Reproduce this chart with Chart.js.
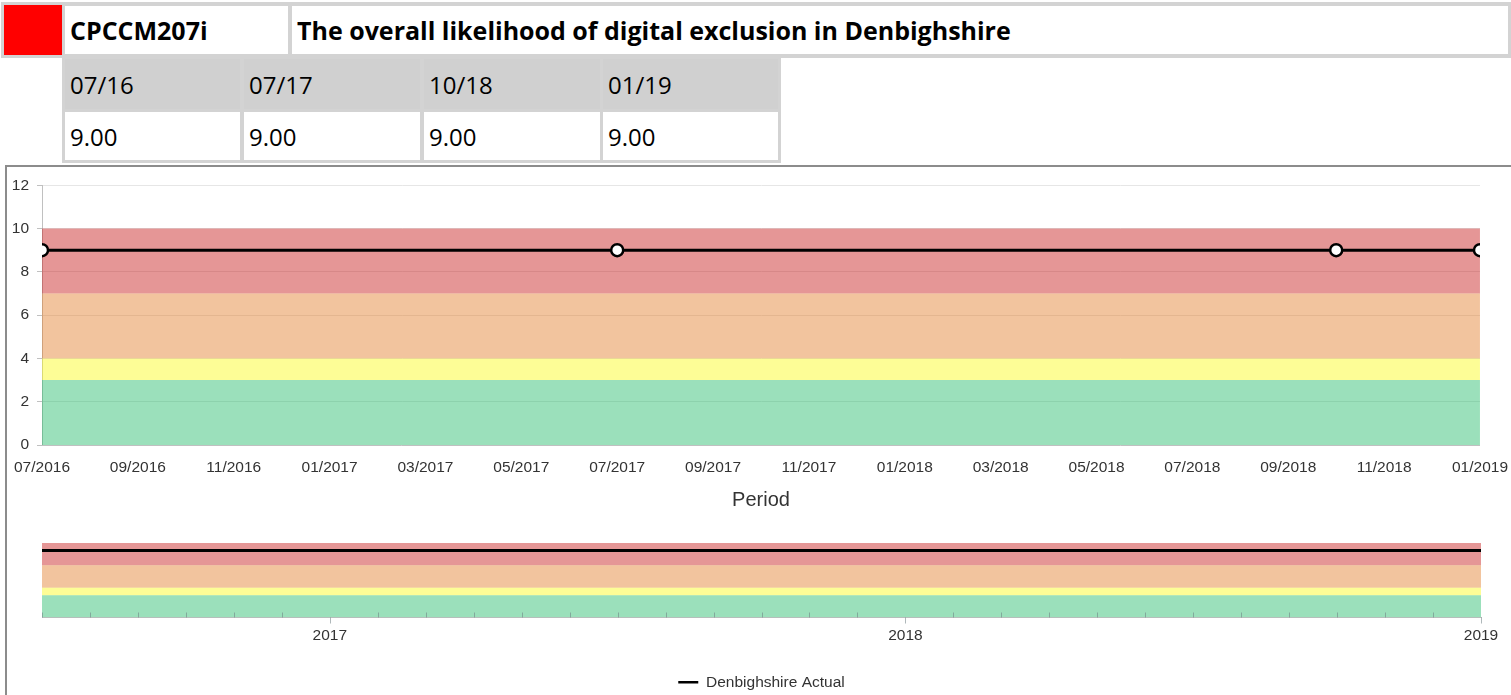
<!DOCTYPE html>
<html>
<head>
<meta charset="utf-8">
<script src="https://cdn.jsdelivr.net/npm/chart.js@4"></script>
<style>
  body { margin: 0; width: 1511px; height: 695px; overflow: hidden; position: relative; background: #fff; font-family: 'Open Sans', sans-serif; color: #000; }
  .box { position: absolute; box-sizing: border-box; }
  .grey { background: #d3d3d3; }
  .cell { position: absolute; box-sizing: border-box; padding-left: 5px; font-size: 24px; display: flex; align-items: center; }
  .bold { font-weight: bold; font-size: 25px; }
  #frame { position: absolute; left: 5px; top: 165px; width: 1530px; height: 600px; border: 2px solid #8c8c8c; box-sizing: border-box; }
  #main { position: absolute; left: 8px; top: 168px; }
  #nav { position: absolute; left: 8px; top: 515px; }
</style>
</head>
<body>
<div class="box grey" style="left:1px;top:2px;width:1510px;height:56px;"></div>
<div class="box" style="left:4px;top:5px;width:58px;height:50px;background:#ff0000;"></div>
<div class="cell bold" style="left:65px;top:6px;width:223px;height:48px;background:#fff;" id="code"></div>
<div class="cell bold" style="left:292px;top:6px;width:1216px;height:48px;background:#fff;" id="title"></div>

<div class="box grey" style="left:62px;top:56px;width:719px;height:107px;"></div>

<div id="frame"></div>
<canvas id="main" width="1503" height="345"></canvas>
<canvas id="nav" width="1503" height="185"></canvas>

<script>
// Indicator
const indicatorCode = 'CPCCM207i';
const indicatorTitle = 'The overall likelihood of digital exclusion in Denbighshire';

// Table
const tablePeriods = ['07/16', '07/17', '10/18', '01/19'];
const tableValues = ['9.00', '9.00', '9.00', '9.00'];

// Series
const periods = ['07/2016', '07/2017', '10/2018', '01/2019'];
const actual = [9, 9, 9, 9];
const seriesName = 'Denbighshire Actual';

// RAG bands (lower to upper edge)
const bandEdges = [0, 3, 4, 7, 10];
const bandColors = ['rgba(33,186,104,0.45)', 'rgba(251,251,22,0.45)', 'rgba(226,124,39,0.45)', 'rgba(197,22,22,0.45)'];

// Axis ticks
const yTicks = [0, 2, 4, 6, 8, 10, 12];
const xTickLabels = ['07/2016', '09/2016', '11/2016', '01/2017', '03/2017', '05/2017', '07/2017', '09/2017',
  '11/2017', '01/2018', '03/2018', '05/2018', '07/2018', '09/2018', '11/2018', '01/2019'];
const navTickLabels = ['2017', '2018', '2019'];

document.getElementById('code').textContent = indicatorCode;
document.getElementById('title').textContent = indicatorTitle;

// build the little period table
const colLeft = [65, 244, 424, 603];
const colWidth = [175, 176, 176, 175];
tablePeriods.forEach((p, i) => {
  const h = document.createElement('div');
  h.className = 'cell';
  h.style.cssText = `left:${colLeft[i]}px;top:59px;width:${colWidth[i]}px;height:50px;background:#d0d0d0;`;
  h.textContent = p;
  document.body.appendChild(h);
  const v = document.createElement('div');
  v.className = 'cell';
  v.style.cssText = `left:${colLeft[i]}px;top:112px;width:${colWidth[i]}px;height:48px;background:#fff;`;
  v.textContent = tableValues[i];
  document.body.appendChild(v);
});

// month index helper: "MM/YYYY" -> months
function toMonth(s) {
  const [m, y] = s.split('/').map(Number);
  return y * 12 + m - 1;
}
const xMin = toMonth(periods[0]);
const xMax = toMonth(periods[periods.length - 1]);

function makeDatasets(showPoints) {
  const sets = [{
    label: seriesName,
    data: periods.map((p, i) => ({ x: toMonth(p), y: actual[i] })),
    borderColor: '#000',
    backgroundColor: '#000',
    borderWidth: 3,
    pointRadius: showPoints ? 6 : 0,
    pointBackgroundColor: '#fff',
    pointBorderColor: '#000',
    pointBorderWidth: 2.5,
    fill: false,
    tension: 0
  }];
  bandEdges.forEach((e, i) => {
    sets.push({
      label: 'band' + i,
      data: [{ x: xMin, y: e }, { x: xMax, y: e }],
      borderWidth: 0,
      pointRadius: 0,
      backgroundColor: i > 0 ? bandColors[i - 1] : 'transparent',
      fill: i > 0 ? '-1' : false
    });
  });
  return sets;
}

Chart.defaults.font.family = "'Liberation Sans', Arial, sans-serif";
Chart.defaults.font.size = 15.5;
Chart.defaults.color = '#333';

new Chart(document.getElementById('main'), {
  type: 'line',
  data: { datasets: makeDatasets(true) },
  options: {
    responsive: false,
    animation: false,
    events: [],
    layout: { padding: { top: 16, right: 30, left: 0, bottom: 0 } },
    plugins: { legend: { display: false }, tooltip: { enabled: false } },
    scales: {
      x: {
        type: 'linear',
        min: xMin,
        max: xMax,
        afterBuildTicks: s => { s.ticks = xTickLabels.map(l => ({ value: toMonth(l) })); },
        afterFit: s => { s.height = 68; },
        ticks: { autoSkip: false, maxRotation: 0, padding: 3, callback: (v, i) => xTickLabels[i] },
        grid: { display: false, drawTicks: true, tickLength: 10, tickColor: 'rgba(0,0,0,0)' },
        border: { color: '#c0c0c0', width: 1 },
        title: { display: true, text: 'Period', font: { size: 20 }, color: '#333', padding: { top: 4, bottom: 1 } }
      },
      y: {
        min: yTicks[0],
        max: yTicks[yTicks.length - 1],
        afterBuildTicks: s => { s.ticks = yTicks.map(v => ({ value: v })); },
        afterFit: s => { s.width = 34; },
        ticks: { padding: 8 },
        grid: { color: '#e6e6e6', tickLength: 5, tickColor: '#c0c0c0' },
        border: { color: '#c0c0c0', width: 1 }
      }
    }
  }
});

// navigator tick marks: months go up, years go down
const navTicks = {
  id: 'navTicks',
  afterDatasetsDraw(chart) {
    const sx = chart.scales.x;
    const bottom = chart.chartArea.bottom;
    const ctx = chart.ctx;
    ctx.save();
    ctx.strokeStyle = 'rgba(110,125,130,0.55)';
    ctx.lineWidth = 1;
    sx.ticks.forEach(t => {
      const px = Math.round(sx.getPixelForValue(t.value)) + 0.5;
      const year = t.label !== '';
      ctx.beginPath();
      ctx.moveTo(px, bottom);
      ctx.lineTo(px, year ? bottom + 6 : bottom - 5);
      ctx.stroke();
    });
    ctx.restore();
  }
};

const navMonths = [];
for (let m = xMin; m <= xMax; m++) navMonths.push(m);

new Chart(document.getElementById('nav'), {
  type: 'line',
  data: { datasets: makeDatasets(false) },
  plugins: [navTicks],
  options: {
    responsive: false,
    animation: false,
    events: [],
    layout: { padding: { top: 28, right: 30, left: 34, bottom: 0 } },
    plugins: {
      tooltip: { enabled: false },
      legend: {
        position: 'bottom',
        labels: {
          usePointStyle: true,
          pointStyle: 'line',
          pointStyleWidth: 20,
          boxHeight: 10,
          padding: 10,
          color: '#333',
          filter: item => item.datasetIndex === 0
        }
      }
    },
    scales: {
      x: {
        type: 'linear',
        min: xMin,
        max: xMax,
        afterBuildTicks: s => { s.ticks = navMonths.map(v => ({ value: v })); },
        afterFit: s => { s.height = 47; },
        ticks: {
          autoSkip: false, maxRotation: 0, padding: 9,
          callback: v => {
            const i = navTickLabels.findIndex(l => toMonth('01/' + l) === v);
            return i >= 0 ? navTickLabels[i] : '';
          }
        },
        grid: { display: false, drawTicks: false },
        border: { color: '#c0c0c0', width: 1 }
      },
      y: {
        display: false,
        min: bandEdges[0],
        max: bandEdges[bandEdges.length - 1]
      }
    }
  }
});
</script>
</body>
</html>
